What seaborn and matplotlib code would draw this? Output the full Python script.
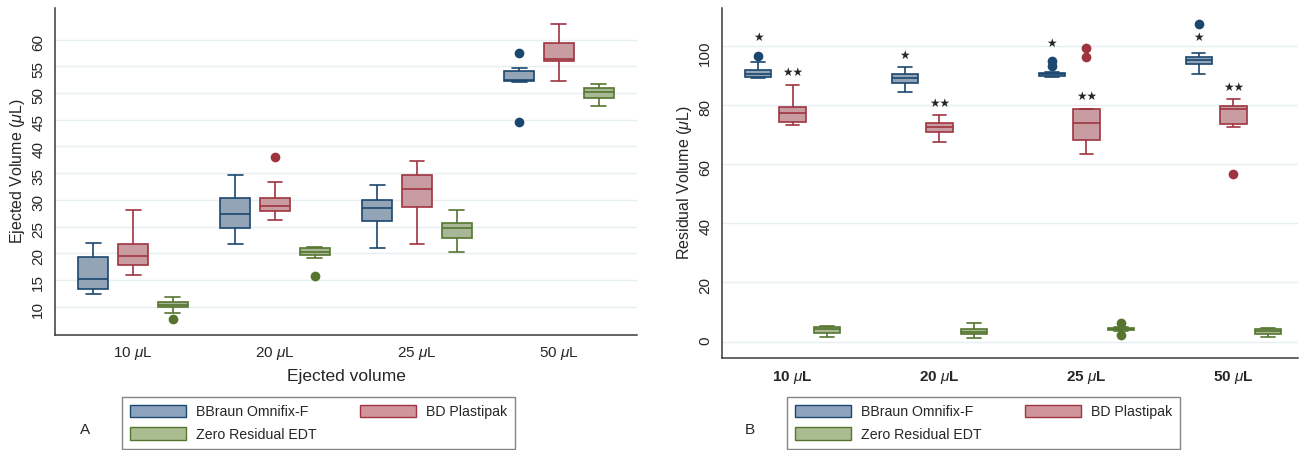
import pandas as pd
import seaborn as sns
import matplotlib.pyplot as plt
from matplotlib.patches import Patch

volumes = ['10', '20', '25', '50']
tick_labels = [r'10 $\mu$L', r'20 $\mu$L', r'25 $\mu$L', r'50 $\mu$L']
brands = ['BBraun Omnifix-F', 'BD Plastipak', 'Zero Residual EDT']

edge_colors = ['#1a476f', '#9e3440', '#55752f']
fill_colors = ['#8ea3bd', '#d0959b', '#a9bd90']

# (lower whisker, q1, median, q3, upper whisker) for 10, 20, 25, 50 uL
ejected_bbraun = [(12.4, 13.4, 15.1, 19.3, 21.9), (21.7, 24.7, 27.3, 30.4, 34.6),
                  (20.9, 26.1, 28.4, 29.9, 32.75), (52.1, 52.3, 52.5, 54.2, 54.6)]
ejected_bd = [(15.9, 17.8, 19.5, 21.8, 28.1), (26.25, 27.9, 28.9, 30.4, 33.4),
              (21.8, 28.6, 32.1, 34.6, 37.2), (52.3, 55.9, 56.4, 59.4, 62.9)]
ejected_zero = [(8.75, 10.0, 10.3, 10.8, 11.9), (19.1, 19.7, 20.3, 20.9, 21.1),
                (20.2, 22.9, 24.8, 25.7, 28.1), (47.6, 49.1, 50.25, 50.9, 51.6)]
ejected_outliers = [('10', 'Zero Residual EDT', 7.75), ('20', 'BD Plastipak', 38.1),
                    ('20', 'Zero Residual EDT', 15.7), ('50', 'BBraun Omnifix-F', 57.5),
                    ('50', 'BBraun Omnifix-F', 44.5)]

residual_bbraun = [(88.9, 89.3, 90.4, 91.7, 94.5), (84.5, 87.3, 88.9, 90.4, 92.7),
                   (89.4, 89.8, 90.3, 90.9, 91.1), (90.4, 93.7, 95.2, 96.3, 97.6)]
residual_bd = [(73.3, 74.2, 77.4, 79.4, 86.8), (67.6, 70.9, 72.6, 73.8, 76.4),
               (63.3, 68.1, 74.0, 78.6, 78.6), (72.6, 73.4, 78.6, 79.6, 82.1)]
residual_zero = [(1.5, 3.0, 4.2, 5.1, 5.3), (1.1, 2.5, 3.4, 4.2, 6.2),
                 (3.6, 3.9, 4.4, 4.7, 5.1), (1.7, 2.5, 3.6, 4.3, 4.8)]
residual_outliers = [('10', 'BBraun Omnifix-F', 96.5), ('25', 'BBraun Omnifix-F', 94.8),
                     ('25', 'BBraun Omnifix-F', 93.1), ('25', 'BD Plastipak', 99.2),
                     ('25', 'BD Plastipak', 96.2), ('25', 'Zero Residual EDT', 6.4),
                     ('25', 'Zero Residual EDT', 2.25), ('50', 'BBraun Omnifix-F', 107.2),
                     ('50', 'BD Plastipak', 56.6)]

# significance marks on panel B
stars_bbraun = [102.7, 96.8, 100.6, 102.7]
stars_bd = [91.0, 80.5, 82.8, 85.9]


def summary_frame(summaries):
    rows = []
    for brand, per_volume in zip(brands, summaries):
        for vol, five in zip(volumes, per_volume):
            for v in five:
                rows.append({'volume': vol, 'brand': brand, 'value': v})
    return pd.DataFrame(rows)


def draw_panel(ax, summaries, outliers, width, gap):
    data = summary_frame(summaries)
    for brand, edge in zip(brands, edge_colors):
        sns.boxplot(data=data[data.brand == brand], x='volume', y='value', hue='brand',
                    order=volumes, hue_order=brands, palette=dict(zip(brands, fill_colors)),
                    linecolor=edge, linewidth=1.2, width=width, gap=gap, dodge=True,
                    whis=(0, 100), showfliers=False, legend=False, ax=ax)
    out = pd.DataFrame(outliers, columns=['volume', 'brand', 'value'])
    out['rank'] = out.groupby(['volume', 'brand']).cumcount()
    for _, sub in out.groupby('rank'):
        sns.pointplot(data=sub, x='volume', y='value', hue='brand', order=volumes,
                      hue_order=brands, palette=dict(zip(brands, edge_colors)),
                      dodge=width * 2 / 3, linestyle='none', errorbar=None, markers='o',
                      markersize=7, markeredgewidth=0, legend=False, ax=ax)
    ax.set_xticks(range(len(volumes)))
    ax.yaxis.grid(True, color='#e5eef0', linewidth=1)
    ax.set_axisbelow(True)
    sns.despine(ax=ax)
    for side in ['left', 'bottom']:
        ax.spines[side].set_color('#3a3a3a')
        ax.spines[side].set_linewidth(1.1)
    ax.tick_params(axis='y', length=5, width=1, color='#3a3a3a', labelrotation=90,
                   labelsize=11, pad=2)
    ax.tick_params(axis='x', length=0, labelsize=11)


sns.set_style('white')
plt.rcParams['font.family'] = ['Liberation Sans', 'DejaVu Sans']
plt.rcParams['mathtext.fontset'] = 'custom'
plt.rcParams['mathtext.rm'] = 'Liberation Sans'
plt.rcParams['mathtext.it'] = 'Liberation Sans:italic'
plt.rcParams['mathtext.bf'] = 'Liberation Sans:bold'

fig = plt.figure(figsize=(13.01, 4.5), dpi=100)
ax1 = fig.add_axes([55 / 1301, 115 / 450, 582 / 1301, 327 / 450])
ax2 = fig.add_axes([722 / 1301, 92 / 450, 576 / 1301, 350 / 450])

# panel A
draw_panel(ax1, [ejected_bbraun, ejected_bd, ejected_zero], ejected_outliers, 0.84, 0.25)
ax1.set_xlim(-0.55, 3.55)
ax1.set_ylim(4.7, 65.9)
ax1.set_yticks(range(10, 61, 5))
ax1.set_xticklabels(tick_labels)
ax1.tick_params(axis='x', pad=7)
ax1.set_ylabel(r'Ejected Volume ($\mu$L)', fontsize=11.5, labelpad=3)
ax1.set_xlabel('Ejected volume', fontsize=12.5, labelpad=5)

# panel B
draw_panel(ax2, [residual_bbraun, residual_bd, residual_zero], residual_outliers, 0.705, 0.23)
ax2.set_xlim(-0.48, 3.44)
ax2.set_ylim(-5.5, 112.7)
ax2.set_yticks(range(0, 101, 20))
ax2.set_xticklabels(tick_labels, fontweight='bold')
ax2.tick_params(axis='x', pad=8)
ax2.set_ylabel(r'Residual Volume ($\mu$L)', fontsize=11.5, labelpad=3)
ax2.set_xlabel('')

offset = 0.705 / 3
for i, (yb, yr) in enumerate(zip(stars_bbraun, stars_bd)):
    ax2.text(i - offset, yb, '\u2605', ha='center', va='center', fontsize=8.5,
             family=['DejaVu Sans'])
    ax2.text(i, yr, '\u2605\u2605', ha='center', va='center', fontsize=8.5,
             family=['DejaVu Sans'])

handles = [Patch(facecolor=f, edgecolor=e, linewidth=1) for f, e in zip(fill_colors, edge_colors)]
order = [0, 2, 1]
for x0, letter, lx in [(122, 'A', 85), (787, 'B', 750)]:
    fig.legend([handles[k] for k in order], [brands[k] for k in order], ncol=2,
               loc='upper left', bbox_to_anchor=(x0 / 1301, 1 - 397 / 450),
               borderaxespad=0, fontsize=10.2, frameon=True, fancybox=False,
               edgecolor='#666666', handlelength=4.0, handleheight=1.0,
               handletextpad=0.7, columnspacing=3.0, labelspacing=0.6,
               borderpad=0.55)
    fig.text(lx / 1301, 1 - 430 / 450, letter, ha='center', va='center', fontsize=11)

fig.savefig('out.png', dpi=100)
